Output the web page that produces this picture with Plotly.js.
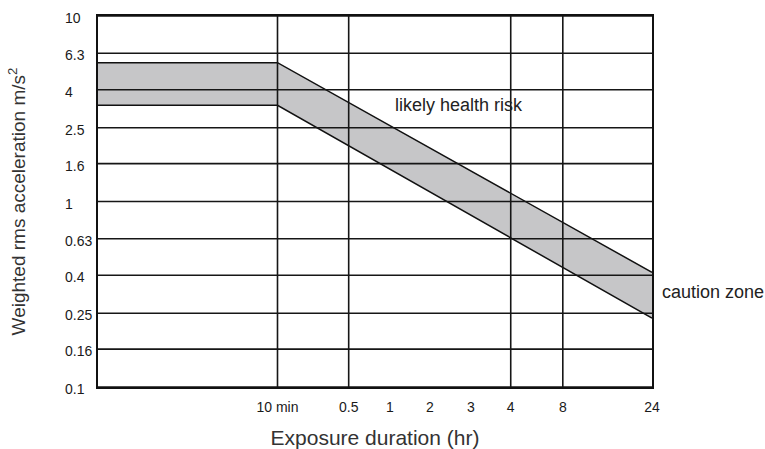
<!DOCTYPE html>
<html>
<head>
<meta charset="utf-8">
<script src="https://cdn.plot.ly/plotly-3.0.1.min.js"></script>
<style>html,body{margin:0;padding:0;background:#fff;}#chart{width:765px;height:449px;}</style>
</head>
<body>
<div id="chart"></div>
<script>
// Schematic duration axis: labels and their positions along the axis (0 = left edge, 100 = right edge)
const xTickLabels = ['10 min', '0.5', '1', '2', '3', '4', '8', '24'];
const xTickPos = [32.4, 45.25, 52.7, 59.9, 67.3, 74.5, 83.9, 100];
const xGridLabels = ['10 min', '0.5', '4', '8'];

// Weighted rms acceleration (log axis)
const yTickVals = [0.1, 0.16, 0.25, 0.4, 0.63, 1, 1.6, 2.5, 4, 6.3, 10];
const yTickText = ['0.1', '0.16', '0.25', '0.4', '0.63', '1', '1.6', '2.5', '4', '6.3', '10'];

// Caution zone band
const bandX = [0, 32.4, 100];
const bandUpper = [5.6, 5.6, 0.415];
const bandLower = [3.3, 3.3, 0.235];

const gridColor = '#161616';
const traces = [];
traces.push({x: bandX, y: bandLower, type: 'scatter', mode: 'lines', line: {color: '#111', width: 1.5}, hoverinfo: 'skip', showlegend: false});
traces.push({x: bandX, y: bandUpper, type: 'scatter', mode: 'lines', fill: 'tonexty', fillcolor: '#c6c6c8', line: {color: '#111', width: 1.5}, hoverinfo: 'skip', showlegend: false});

// grid lines drawn above the band
yTickVals.forEach(v => {
  traces.push({x: [0, 100], y: [v, v], type: 'scatter', mode: 'lines', line: {color: gridColor, width: 1.6}, hoverinfo: 'skip', showlegend: false, cliponaxis: false});
});
xGridLabels.forEach(l => {
  const p = xTickPos[xTickLabels.indexOf(l)];
  traces.push({x: [p, p], y: [0.1, 10], type: 'scatter', mode: 'lines', line: {color: gridColor, width: 1.6}, hoverinfo: 'skip', showlegend: false, cliponaxis: false});
});

const annotations = yTickVals.map((v, i) => ({
  xref: 'paper', yref: 'y', x: -0.0632, y: Math.log10(v), xanchor: 'left', yanchor: 'middle',
  text: yTickText[i], showarrow: false, yshift: -2,
  font: {family: 'Liberation Sans, Arial, sans-serif', size: 14, color: '#1a1a1a'}
}));
annotations.push({xref: 'x', yref: 'y', x: 53.2, y: Math.log10(3.3), xanchor: 'left', yanchor: 'middle',
  text: 'likely health risk', showarrow: false,
  font: {family: 'Liberation Sans, Arial, sans-serif', size: 18, color: '#222'}});
annotations.push({xref: 'paper', yref: 'y', x: 1.0144, y: Math.log10(0.325), xanchor: 'left', yanchor: 'middle',
  text: 'caution zone', showarrow: false,
  font: {family: 'Liberation Sans, Arial, sans-serif', size: 18, color: '#222'}});

const layout = {
  width: 765, height: 449,
  margin: {l: 98, r: 113, t: 16, b: 62},
  paper_bgcolor: '#fff', plot_bgcolor: '#fff',
  showlegend: false,
  font: {family: 'Liberation Sans, Arial, sans-serif', color: '#222'},
  xaxis: {
    range: [0, 100], tickvals: xTickPos, ticktext: xTickLabels, ticks: '',
    showgrid: false, zeroline: false, showline: true, mirror: true, linecolor: '#111', linewidth: 2,
    ticklabelstandoff: 6,
    tickfont: {family: 'Liberation Sans, Arial, sans-serif', size: 14, color: '#1a1a1a'},
    title: {text: 'Exposure duration (hr)', standoff: 18, font: {family: 'Liberation Sans, Arial, sans-serif', size: 21, color: '#333'}},
    automargin: false, fixedrange: true
  },
  yaxis: {
    type: 'log', range: [-1, 1], showticklabels: false, ticks: '',
    showgrid: false, zeroline: false, showline: true, mirror: true, linecolor: '#111', linewidth: 2,
    title: {text: 'Weighted rms acceleration m/s<sup>2</sup>', standoff: 65, font: {family: 'Liberation Sans, Arial, sans-serif', size: 19, color: '#333'}},
    automargin: false, fixedrange: true
  },
  annotations: annotations
};

Plotly.newPlot('chart', traces, layout, {displayModeBar: false, staticPlot: true});
</script>
</body>
</html>
